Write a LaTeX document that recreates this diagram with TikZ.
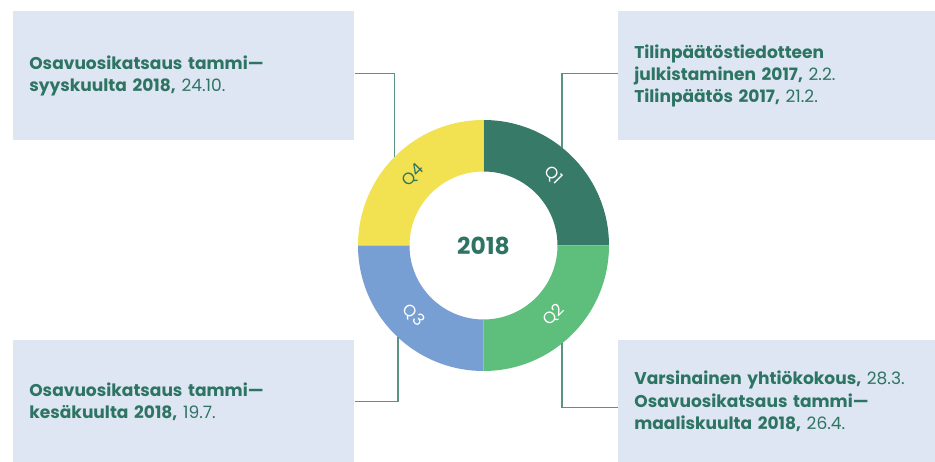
\documentclass[tikz,border=0pt]{standalone}
\usepackage{fontspec}
\setmainfont{Poppins}
\usepackage{tikz}
\usetikzlibrary{positioning, calc}
\definecolor{ktTeal}{HTML}{2E7463}
\definecolor{ktQI}{HTML}{387A68}
\definecolor{ktQII}{HTML}{5DBF7B}
\definecolor{ktQIII}{HTML}{779FD3}
\definecolor{ktQIV}{HTML}{F2E150}
\definecolor{ktBox}{HTML}{DDE6F2}
\definecolor{ktLine}{HTML}{5A9382}
\tikzset{
  tapahtuma/.style={fill=ktBox, anchor=north west, align=left, text=ktTeal,
    inner xsep=0.32cm, inner ysep=0pt, font=\fontsize{9.7}{12.6}\selectfont},
  liitin/.style={draw=ktLine, line width=0.8pt},
  neljannes/.style={font=\fontsize{9.4}{10}\selectfont, inner sep=1pt}
}

\begin{document}
\begin{tikzpicture}
  % rajat
  \useasboundingbox (0,0) rectangle (18.7,9.24);
  \coordinate (ring) at (9.67,4.33);
  % rengas
  \foreach \a/\col in {0/ktQI, 270/ktQII, 180/ktQIII, 90/ktQIV}{
    \fill[\col] ($(ring)+(\a:2.51)$) arc[start angle=\a, delta angle=90, radius=2.51]
      -- ($(ring)+(\a+90:1.48)$) arc[start angle=\a+90, delta angle=-90, radius=1.48] -- cycle;
  }
  \node[font=\fontsize{13.3}{16}\selectfont\bfseries, text=ktTeal] (vuosi) at (ring) {2018};
  % neljannekset
  \node[neljannes, text=white, rotate=-45] (q1) at ($(ring)+(45:1.98)$) {Q1};
  \node[neljannes, text=white, rotate=45] (q2) at ($(ring)+(-45:1.98)$) {Q2};
  \node[neljannes, text=white, rotate=-45] (q3) at ($(ring)+(225:1.98)$) {Q3};
  \node[neljannes, text=ktTeal, rotate=45] (q4) at ($(ring)+(135:1.98)$) {Q4};
  % laatikot
  \node[tapahtuma, text width=6.18cm, minimum height=2.58cm] (q4box) at (0.26,9.02)
    {\textbf{Osavuosikatsaus tammi—}\\\textbf{syyskuulta 2018,} 24.10.};
  \node[tapahtuma, text width=5.70cm, minimum height=2.58cm] (q1box) at (12.36,9.02)
    {\textbf{Tilinpäätöstiedotteen}\\\textbf{julkistaminen 2017,} 2.2.\\\textbf{Tilinpäätös 2017,} 21.2.};
  \node[tapahtuma, text width=6.18cm, minimum height=2.44cm] (q3box) at (0.26,2.44)
    {\textbf{Osavuosikatsaus tammi—}\\\textbf{kesäkuulta 2018,} 19.7.};
  \node[tapahtuma, text width=5.70cm, minimum height=2.44cm] (q2box) at (12.36,2.44)
    {\textbf{Varsinainen yhtiökokous,} 28.3.\\\textbf{Osavuosikatsaus tammi—}\\\textbf{maaliskuulta 2018,} 26.4.};
  % liittimet
  \coordinate (c1) at ($(ring)+(51.3:2.51)$);
  \coordinate (c2) at ($(ring)+(-51.3:2.51)$);
  \coordinate (c3) at ($(ring)+(227:2.51)$);
  \coordinate (c4) at ($(ring)+(135:2.51)$);
  \draw[liitin] ([yshift=0.05cm]q4box.east) -| (c4);
  \draw[liitin] ([yshift=0.05cm]q1box.west) -| (c1);
  \draw[liitin] (q3box.east) -| (c3);
  \draw[liitin] ([yshift=-0.12cm]q2box.west) -| (c2);
\end{tikzpicture}
\end{document}
